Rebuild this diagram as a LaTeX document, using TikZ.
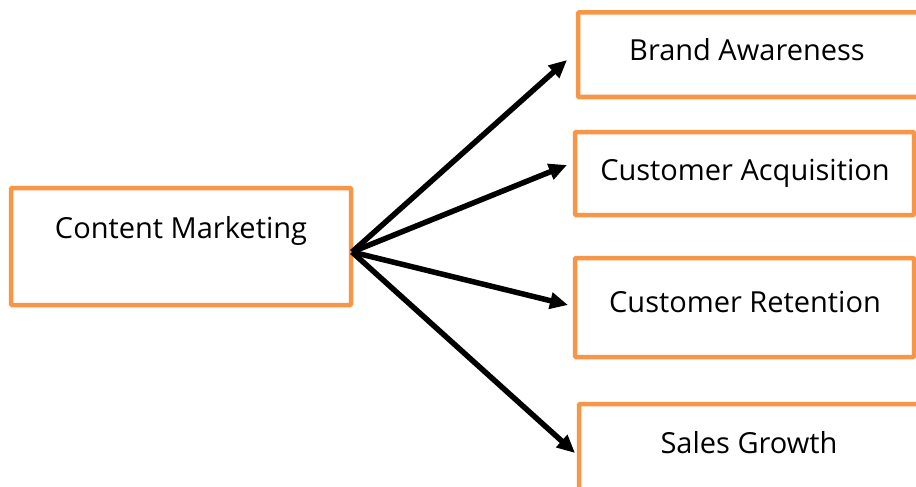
\documentclass[tikz,border=0pt]{standalone}
\usepackage{fontspec}
\setmainfont{Open Sans}
\usetikzlibrary{arrows.meta,calc}
\definecolor{boxorange}{HTML}{F79646}
\begin{document}
\begin{tikzpicture}[x=1pt,y=-1pt,
  box/.style={draw=boxorange,line width=4.5pt,fill=white,rounded corners=1pt},
  lbl/.style={font=\fontsize{29}{32}\selectfont,inner sep=0pt,anchor=base},
  link/.style={line width=5.5pt,-{Triangle[length=18pt,width=16pt]}}]
\useasboundingbox (0,0) rectangle (916,487);
\clip (0,0) rectangle (916,487);
% boxes (the right-hand column runs off the edge of the page)
\draw[box] (11,188) rectangle (351,305);
\draw[box] (578,12.5) rectangle (940,97);
\draw[box] (575,132) rectangle (914,215);
\draw[box] (575,258) rectangle (914,357);
\draw[box] (579,404) rectangle (940,520);
% labels
\node[lbl] (cm) at (181,238) {Content Marketing};
\node[lbl] (ba) at (747,61) {Brand Awareness};
\node[lbl] (ca) at (745,180) {Customer Acquisition};
\node[lbl] (cr) at (745,312) {Customer Retention};
\node[lbl] (sg) at (749,453) {Sales Growth};
% connectors fan out from one point on the left box
\coordinate (hub) at (352,252);
\coordinate (baend) at (567,60);
\coordinate (caend) at (567,165);
\coordinate (crend) at (568,305);
\coordinate (sgend) at (575,453);
\draw[link] (hub) -- (baend);
\draw[link] (hub) -- (caend);
\draw[link] (hub) -- (crend);
\draw[link] (hub) -- (sgend);
\end{tikzpicture}
\end{document}
